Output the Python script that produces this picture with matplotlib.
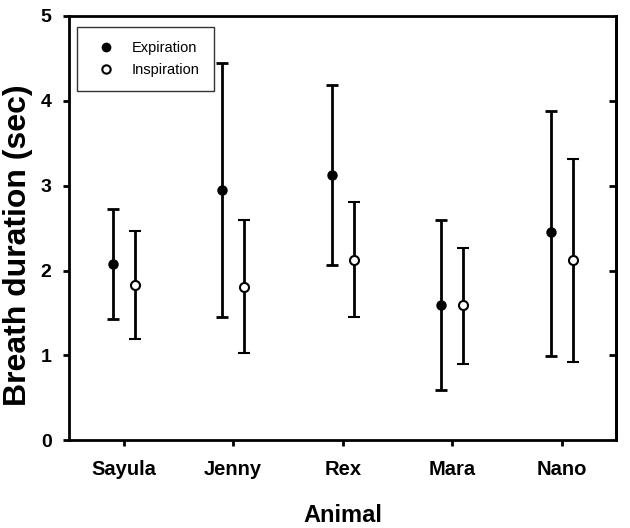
import numpy as np
import matplotlib.pyplot as plt
from matplotlib.lines import Line2D

plt.rcParams['font.family'] = ['Liberation Sans', 'DejaVu Sans']

animals = ['Sayula', 'Jenny', 'Rex', 'Mara', 'Nano']
exp_mean = [2.08, 2.95, 3.13, 1.59, 2.45]
exp_low = [1.43, 1.45, 2.07, 0.59, 0.99]
exp_high = [2.72, 4.45, 4.18, 2.59, 3.88]
insp_mean = [1.83, 1.81, 2.13, 1.59, 2.12]
insp_low = [1.19, 1.03, 1.45, 0.90, 0.92]
insp_high = [2.47, 2.59, 2.81, 2.27, 3.31]

x = np.arange(1, len(animals) + 1)
exp_mean = np.array(exp_mean)
insp_mean = np.array(insp_mean)
exp_err = [exp_mean - np.array(exp_low), np.array(exp_high) - exp_mean]
insp_err = [insp_mean - np.array(insp_low), np.array(insp_high) - insp_mean]

fig = plt.figure(figsize=(6.3, 5.28), dpi=100)
ax = fig.add_axes([0.1095, 0.166, 0.869, 0.804])

ax.errorbar(x - 0.1, exp_mean, yerr=exp_err, fmt='o', color='black',
            mfc='black', mec='black', ms=6.5, elinewidth=2, capsize=4.5,
            capthick=2)
ax.errorbar(x + 0.1, insp_mean, yerr=insp_err, fmt='o', color='black',
            mfc='white', mec='black', mew=1.5, ms=6.5, elinewidth=2, capsize=4.5,
            capthick=2)

ax.set_xlim(0.5, 5.5)
ax.set_ylim(0, 5)
ax.set_xticks(x)
ax.set_xticklabels(animals, fontsize=14.5, fontweight='bold')
ax.set_yticks([0, 1, 2, 3, 4, 5])
ax.set_yticklabels(['0', '1', '2', '3', '4', '5'], fontsize=14, fontweight='bold')
ax.tick_params(axis='both', direction='out', length=4.5, width=2)
ax.tick_params(axis='x', pad=10)
ax.tick_params(axis='y', pad=8)
for s in ax.spines.values():
    s.set_linewidth(2)

# right axis: ticks pointing inward, no labels
sec = ax.secondary_yaxis('right')
sec.set_yticks([1, 2, 3, 4])
sec.tick_params(direction='in', length=5, width=2, labelright=False)
sec.spines['right'].set_linewidth(2)

ax.set_xlabel('Animal', fontsize=17, fontweight='bold', labelpad=18)
ax.set_ylabel('Breath duration (sec)', fontsize=23, fontweight='bold')
ax.yaxis.set_label_coords(-0.066, 0.46)

handles = [
    Line2D([], [], ls='none', marker='o', color='black', mfc='black', ms=6),
    Line2D([], [], ls='none', marker='o', color='black', mfc='white', mew=1.5, ms=6),
]
leg = ax.legend(handles, ['Expiration', 'Inspiration'], loc='upper left',
                fontsize=10.5, frameon=True, fancybox=False, edgecolor='black',
                handlelength=2.0, handletextpad=0.75, borderpad=1.0,
                labelspacing=0.5, borderaxespad=0,
                bbox_to_anchor=(0.0146, 0.974))
leg.get_frame().set_linewidth(1)

fig.savefig('out.png', dpi=100)
